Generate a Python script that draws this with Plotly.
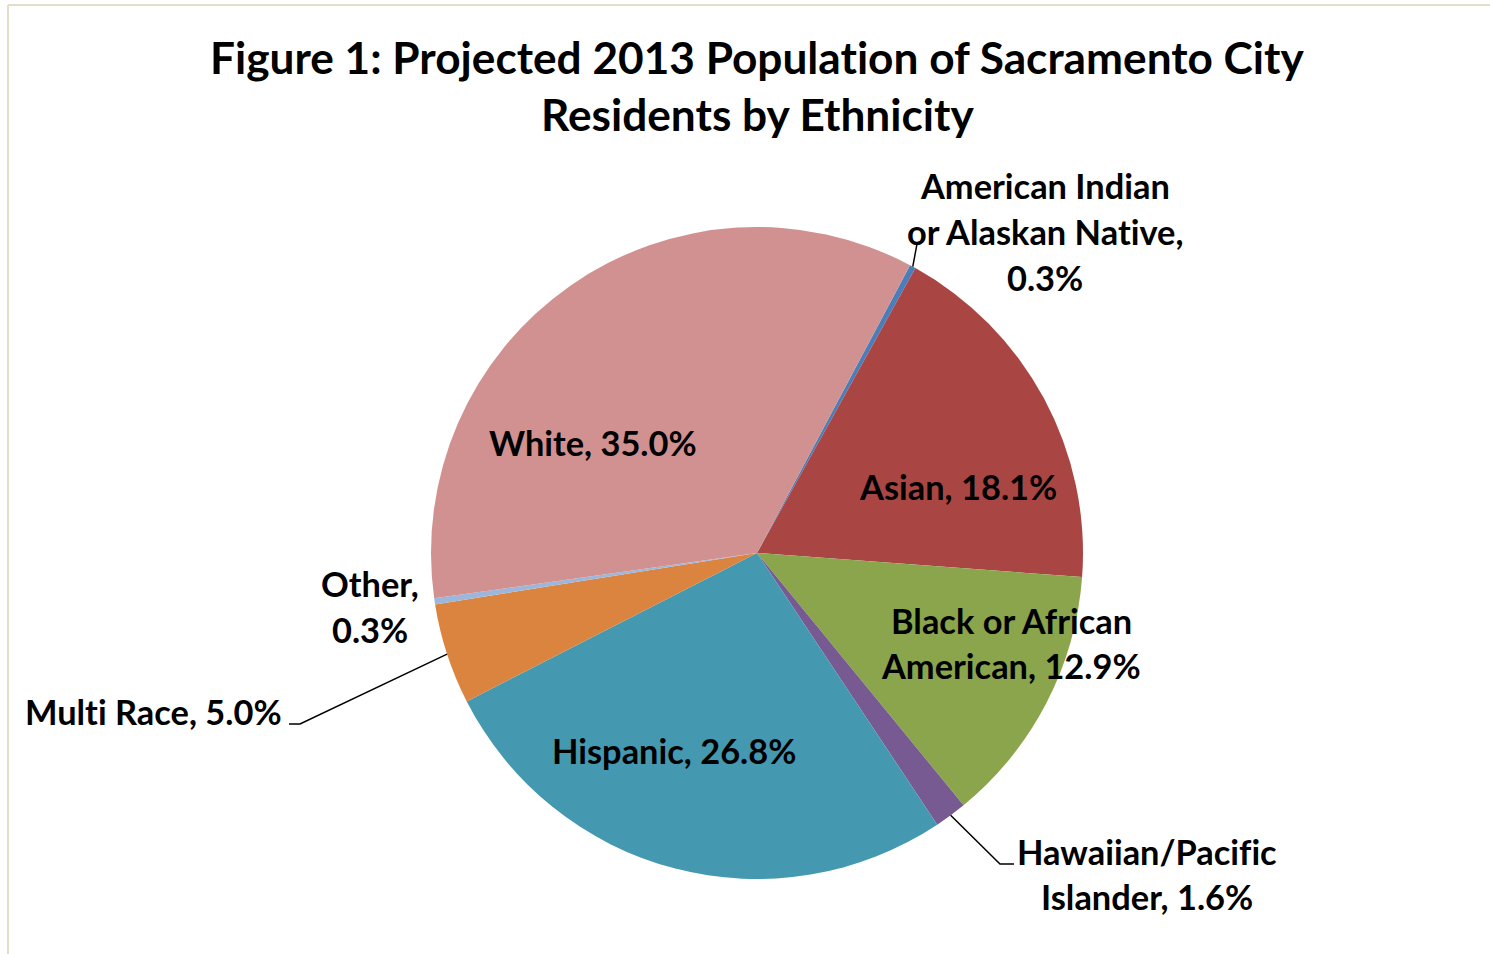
import math
import plotly.graph_objects as go

# Projected 2013 population shares (percent), clockwise from the American Indian slice
groups = ["American Indian or Alaskan Native", "Asian", "Black or African American",
          "Hawaiian/Pacific Islander", "Hispanic", "Multi Race", "Other", "White"]
shares = [0.3, 18.1, 12.9, 1.6, 26.8, 5.0, 0.3, 35.0]
# label text lines; "{pct}" is filled from the share value
label_lines = [
    ["American Indian", "or Alaskan Native,", "{pct}"],
    ["Asian, {pct}"],
    ["Black or African", "American, {pct}"],
    ["Hawaiian/Pacific", "Islander, {pct}"],
    ["Hispanic, {pct}"],
    ["Multi Race, {pct}"],
    ["Other,", "{pct}"],
    ["White, {pct}"],
]
title_lines = ["Figure 1: Projected 2013 Population of Sacramento City", "Residents by Ethnicity"]
colors = ["#4A7EBB", "#A94644", "#8AA54C", "#765A91", "#4499B0", "#DA8440", "#9DB6DC", "#D09190"]

W, H = 1490, 954
CX, CY, R = 757, 553, 326          # pie centre and radius in pixels
ROTATION = 28                       # first slice starts 28 deg clockwise from 12 o'clock

FONT = "Lato, 'Open Sans', sans-serif"
LABEL_SIZE = 34.4
TITLE_SIZE = 44.2
TEXT_DY = -2                        # small vertical nudge for all text lines


def px(x):
    return x / W


def py(y):
    return 1 - y / H


def no_lig(s):
    # keep "ti" / "fi" as separate glyphs (zero-width non-joiner)
    return s.replace("ti", "t\u200ci").replace("fi", "f\u200ci")


def mid_point(i, radius):
    total = sum(shares)
    start = ROTATION + 360 * sum(shares[:i]) / total
    mid = start + 180 * shares[i] / total
    a = math.radians(mid)
    return CX + radius * math.sin(a), CY - radius * math.cos(a)


fig = go.Figure(go.Pie(
    labels=groups,
    values=shares,
    sort=False,
    direction="clockwise",
    rotation=ROTATION,
    marker=dict(colors=colors, line=dict(width=0)),
    textinfo="none",
    hoverinfo="label+percent",
    showlegend=False,
    domain=dict(x=[px(CX - R), px(CX + R)], y=[py(CY + R), py(CY - R)]),
))

# label block placement: centre x and the y of each text line (pixels)
label_x = [1045, 958, 1011, 1147, 674, 153, 370, 593]
label_y = [[187, 233, 279], [489], [622, 667], [853, 898], [752], [713], [585, 631], [445]]

annotations = []
for i, lines in enumerate(label_lines):
    pct = f"{shares[i]:.1f}%"
    for line, ly in zip(lines, label_y[i]):
        annotations.append(dict(
            x=px(label_x[i]), y=py(ly + TEXT_DY), xref="paper", yref="paper",
            text="<b>" + no_lig(line.replace("{pct}", pct)) + "</b>",
            showarrow=False, xanchor="center", yanchor="middle",
            font=dict(family=FONT, size=LABEL_SIZE, color="#000000"),
        ))

for line, ty in zip(title_lines, [58, 116]):
    annotations.append(dict(
        x=px(757), y=py(ty + TEXT_DY), xref="paper", yref="paper",
        text="<b>" + no_lig(line) + "</b>", showarrow=False,
        xanchor="center", yanchor="middle",
        font=dict(family=FONT, size=TITLE_SIZE, color="#000000"),
    ))

# leader lines from slice edges to the outside labels
leaders = {
    0: [(917, 244)],
    3: [(1000, 864), (1014, 864)],
    5: [(300, 724), (289, 724)],
}
shapes = []
for i, pts in leaders.items():
    sx, sy = mid_point(i, R)
    path = f"M {px(sx)} {py(sy)}" + "".join(f" L {px(x)} {py(y)}" for x, y in pts)
    shapes.append(dict(type="path", xref="paper", yref="paper", path=path,
                       line=dict(color="#000000", width=1.5)))

# chart frame (top and left edges visible)
shapes.append(dict(type="line", xref="paper", yref="paper",
                   x0=px(8), y0=py(5), x1=1.0, y1=py(5),
                   line=dict(color="#E3DDC9", width=2)))
shapes.append(dict(type="line", xref="paper", yref="paper",
                   x0=px(8), y0=py(5), x1=px(8), y1=0.0,
                   line=dict(color="#E3DDC9", width=2)))

fig.update_layout(
    width=W, height=H,
    margin=dict(l=0, r=0, t=0, b=0),
    paper_bgcolor="#FFFFFF",
    plot_bgcolor="#FFFFFF",
    annotations=annotations,
    shapes=shapes,
)

fig.write_html("out.html", include_plotlyjs=True)
